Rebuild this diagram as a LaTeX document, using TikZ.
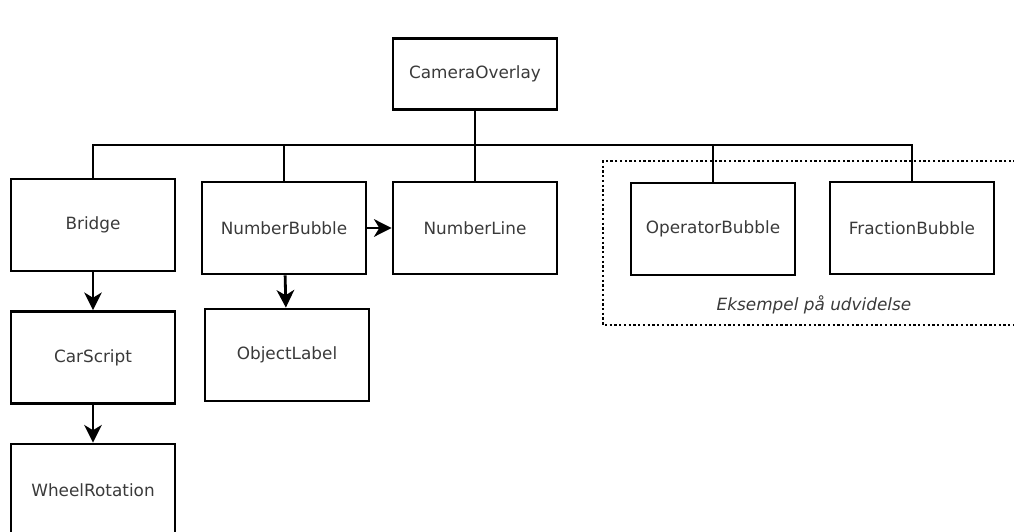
\documentclass[tikz,border=0pt]{standalone}
\usepackage{fontspec}
\setmainfont{DejaVu Sans}
\usetikzlibrary{arrows.meta,positioning}
\definecolor{labelgray}{HTML}{3A3A3A}
\begin{document}
\begin{tikzpicture}[
    x=0.02cm, y=0.02cm,
    node distance=2.65cm,
    box/.style={rectangle, draw, line width=1.6pt, minimum width=3.28cm, minimum height=1.84cm, align=center, text=labelgray, font=\fontsize{9.6}{11.5}\selectfont},
    line/.style={line width=1.6pt},
    arrow/.style={-{Stealth[length=10pt, width=10pt, inset=3pt]}, line width=1.6pt}
]
    \useasboundingbox (0,0) rectangle (1014,531);

    % Root
    \node[box, minimum height=1.42cm] (camera) at (475,457) {CameraOverlay};
    \coordinate (bus) at (475,386);

    % Top row
    \node[box] (bridge) at (93,306) {Bridge};
    \node[box] (numbubble) at (284,303) {NumberBubble};
    \node[box] (numline) at (475,303) {NumberLine};
    \node[box] (opbubble) at (713,302) {OperatorBubble};
    \node[box] (fracbubble) at (912,303) {FractionBubble};

    % Chains
    \node[box, below of=bridge] (carscript) {CarScript};
    \node[box, below of=carscript] (wheel) {WheelRotation};
    \node[box] (objlabel) at (287,176) {ObjectLabel};

    % Extension frame
    \draw[line width=1.3pt, dash pattern=on 1.3pt off 1.4pt] (1030,370) -- (603,370) -- (603,206) -- (1030,206);
    \node[text=labelgray, font=\fontsize{9.6}{11.5}\selectfont\itshape] (extlabel) at (814,226) {Eksempel på udvidelse};

    % Tree lines
    \draw[line] (camera) -- (bus);
    \draw[line] (bridge.north) |- (bus);
    \draw[line] (numbubble.north) |- (bus);
    \draw[line] (numline.north) |- (bus);
    \draw[line] (opbubble.north) |- (bus);
    \draw[line] (fracbubble.north) |- (bus);

    % Arrows
    \draw[arrow] (bridge) -- (carscript);
    \draw[arrow] (carscript) -- (wheel);
    \draw[arrow] (numbubble) -- (numline);
    \draw[arrow] (numbubble) -- (objlabel);

\end{tikzpicture}
\end{document}
